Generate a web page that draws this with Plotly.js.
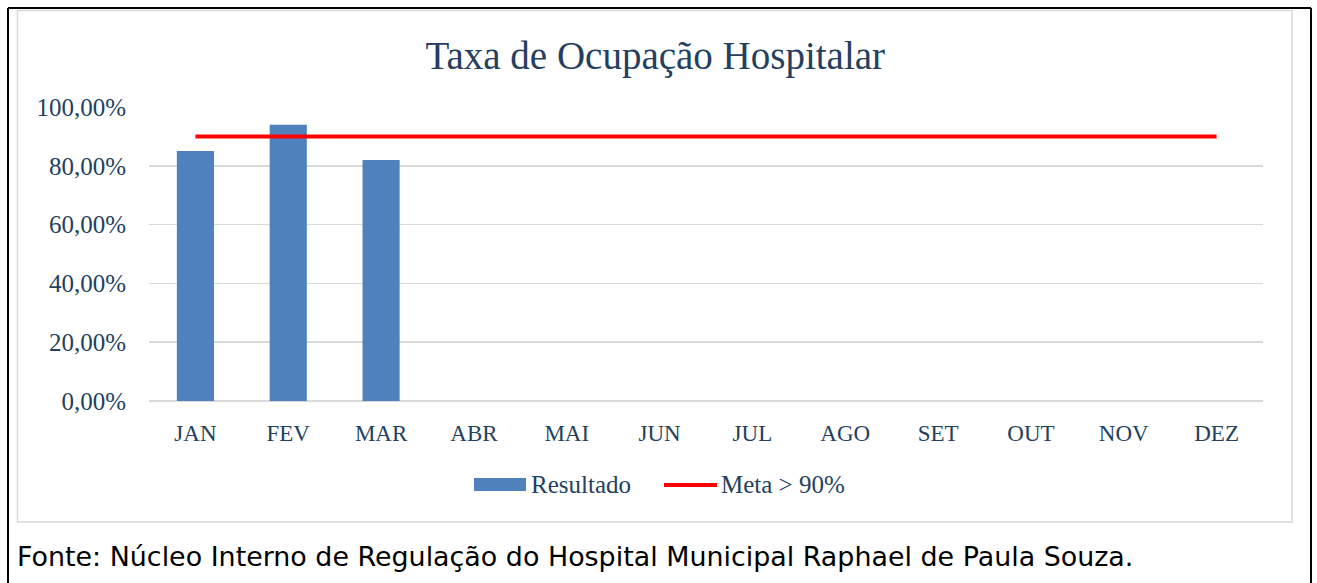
<!DOCTYPE html>
<html>
<head>
<meta charset="utf-8">
<script src="https://cdn.plot.ly/plotly-3.0.1.min.js"></script>
<style>
html,body{margin:0;padding:0;background:#fff;}
#chart{width:1317px;height:583px;}
</style>
</head>
<body>
<div id="chart"></div>
<script>
// ---- data ----
const months = ["JAN","FEV","MAR","ABR","MAI","JUN","JUL","AGO","SET","OUT","NOV","DEZ"];
const resultado = [0.85, 0.94, 0.82, null, null, null, null, null, null, null, null, null];
const meta = [0.90, 0.90, 0.90, 0.90, 0.90, 0.90, 0.90, 0.90, 0.90, 0.90, 0.90, 0.90];
const titleText = "Taxa de Ocupação Hospitalar";
const seriesNames = ["Resultado", "Meta > 90%"];
const sourceText = "Fonte: Núcleo Interno de Regulação do Hospital Municipal Raphael de Paula Souza.";

// ---- layout geometry (pixels) ----
const W = 1317, H = 583;
const L = 149, R = 1263, T = 107, B = 401;
const px = x => (x - L) / (R - L);
const py = y => (B - y) / (B - T);

const serif = "Liberation Serif, Times New Roman, serif";
const txtColor = "#243f60";
const blue = "#4f81bd";
const red = "#ff0000";

const traces = [
  {type: "bar", x: months, y: resultado, name: seriesNames[0], marker: {color: blue}, showlegend: false, hoverinfo: "x+y"},
  {type: "scatter", mode: "lines", x: months, y: meta, name: seriesNames[1], line: {color: red, width: 4}, showlegend: false}
];

const shapes = [
  // outer black frame
  {type: "line", xref: "paper", yref: "paper", x0: px(8), x1: px(1311), y0: py(8), y1: py(8), line: {color: "#000", width: 2}},
  {type: "line", xref: "paper", yref: "paper", x0: px(8), x1: px(8), y0: py(8), y1: py(590), line: {color: "#000", width: 2}},
  {type: "line", xref: "paper", yref: "paper", x0: px(1311), x1: px(1311), y0: py(8), y1: py(590), line: {color: "#000", width: 2}},
  // chart area gray box
  {type: "rect", xref: "paper", yref: "paper", x0: px(17.5), x1: px(1292), y0: py(10.5), y1: py(522), line: {color: "#d9d9d9", width: 1.5}, fillcolor: "rgba(0,0,0,0)"},
  // legend swatches
  {type: "rect", xref: "paper", yref: "paper", x0: px(474), x1: px(526), y0: py(478), y1: py(491), line: {width: 0}, fillcolor: blue},
  {type: "line", xref: "paper", yref: "paper", x0: px(664), x1: px(717), y0: py(485), y1: py(485), line: {color: red, width: 4}}
];

const annotations = [
  {xref: "paper", yref: "paper", x: px(529), y: py(485), xanchor: "left", yanchor: "middle", showarrow: false,
   text: seriesNames[0], font: {family: serif, size: 25, color: txtColor}},
  {xref: "paper", yref: "paper", x: px(719), y: py(485), xanchor: "left", yanchor: "middle", showarrow: false,
   text: seriesNames[1], font: {family: serif, size: 25, color: txtColor}},
  {xref: "paper", yref: "paper", x: px(15), y: py(556), xanchor: "left", yanchor: "middle", showarrow: false,
   text: sourceText, font: {family: "DejaVu Sans, Verdana, sans-serif", size: 26.9, color: "#000"}}
];

const layout = {
  width: W, height: H,
  margin: {l: L, r: W - R, t: T, b: H - B, pad: 0},
  paper_bgcolor: "#fff", plot_bgcolor: "#fff",
  separators: ",.",
  showlegend: false,
  bargap: 0.6,
  title: {text: titleText, xref: "container", yref: "container", x: 0.4975, y: 1 - 55 / H, xanchor: "center", yanchor: "middle",
          font: {family: serif, size: 39, color: txtColor}},
  xaxis: {type: "category", showgrid: false, zeroline: false, showline: false, ticks: "",
          tickfont: {family: serif, size: 23, color: txtColor}, ticklabelstandoff: 16, fixedrange: true},
  yaxis: {range: [0, 1], dtick: 0.2, tick0: 0, tickformat: ".2%", showgrid: true, gridcolor: "#d9d9d9", gridwidth: 1.5,
          zeroline: true, zerolinecolor: "#d9d9d9", zerolinewidth: 1.5, showline: false, ticks: "",
          tickfont: {family: serif, size: 25, color: txtColor}, ticklabelstandoff: 22, fixedrange: true},
  shapes: shapes,
  annotations: annotations
};

Plotly.newPlot("chart", traces, layout, {displayModeBar: false, staticPlot: true});
</script>
</body>
</html>
